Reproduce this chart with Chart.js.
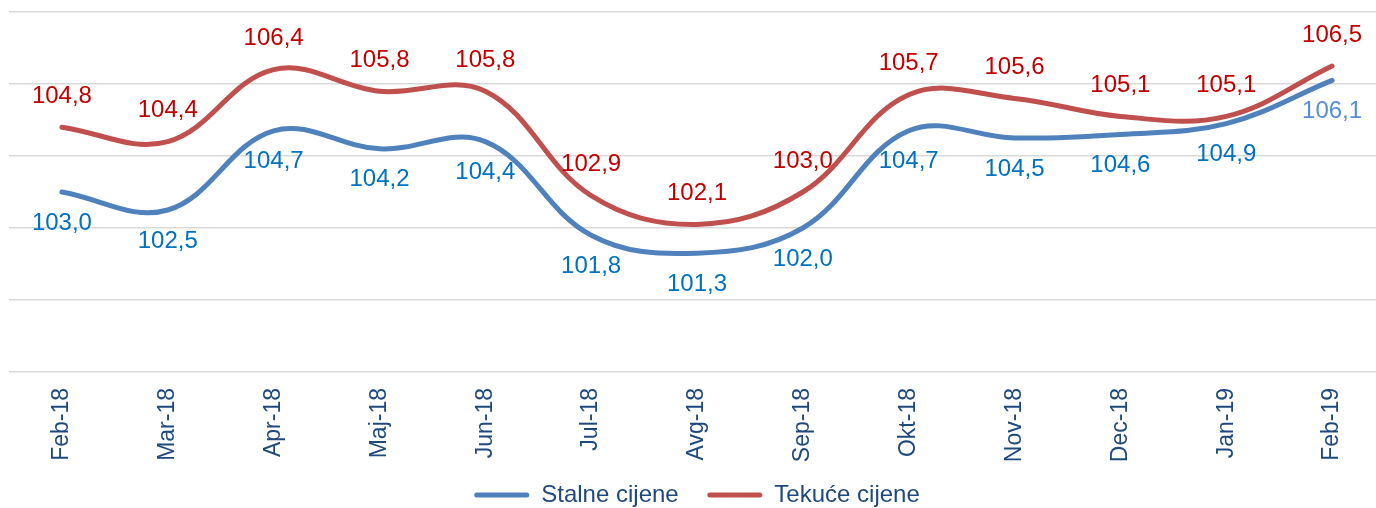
<!DOCTYPE html>
<html>
<head>
<meta charset="utf-8">
<script src="https://cdn.jsdelivr.net/npm/chart.js@4"></script>
<style>
  html, body { margin: 0; padding: 0; background: #fff; overflow: hidden; }
  #wrap { width: 1385px; height: 508px; position: relative; }
</style>
</head>
<body>
<div id="wrap"><canvas id="chartC"></canvas></div>
<script>
var months = ["Feb-18", "Mar-18", "Apr-18", "Maj-18", "Jun-18", "Jul-18", "Avg-18",
              "Sep-18", "Okt-18", "Nov-18", "Dec-18", "Jan-19", "Feb-19"];
var stalne = [103.0, 102.5, 104.7, 104.2, 104.4, 101.8, 101.3, 102.0, 104.7, 104.5, 104.6, 104.9, 106.1];
var tekuce = [104.8, 104.4, 106.4, 105.8, 105.8, 102.9, 102.1, 103.0, 105.7, 105.6, 105.1, 105.1, 106.5];
var yTicks = [98, 100, 102, 104, 106, 108];

var FONT = 'Arial, "Liberation Sans", sans-serif';
var TXT = '#1f497d';

// value labels above / below every point
var valueLabels = {
    id: 'valueLabels',
    afterDatasetsDraw: function(chart) {
        var ctx = chart.ctx;
        ctx.save();
        ctx.font = '24px ' + FONT;
        ctx.textAlign = 'center';
        ctx.textBaseline = 'middle';
        chart.data.datasets.forEach(function(ds, di) {
            var meta = chart.getDatasetMeta(di);
            meta.data.forEach(function(pt, i) {
                var v = ds.data[i];
                var col = ds.labelColor;
                if (di == 0 && i == ds.data.length - 1) col = '#558ed5';
                ctx.fillStyle = col;
                ctx.fillText(v.toFixed(1).replace('.', ','), pt.x, pt.y + ds.labelOffset);
            });
        });
        ctx.restore();
    }
};

var ctx = document.getElementById("chartC");
var chartC = new Chart(ctx, {
    type: "line",
    data: {
        labels: months,
        datasets: [{
            label: "Stalne cijene",
            data: stalne,
            borderColor: '#4f81bd',
            backgroundColor: '#4f81bd',
            borderWidth: 5,
            pointRadius: 0,
            tension: 0.38,
            borderCapStyle: 'round',
            labelColor: '#0070c0',
            labelOffset: 31
        }, {
            label: "Tekuće cijene",
            data: tekuce,
            borderColor: '#c0504d',
            backgroundColor: '#c0504d',
            borderWidth: 5,
            pointRadius: 0,
            tension: 0.38,
            borderCapStyle: 'round',
            labelColor: '#c00000',
            labelOffset: -31
        }]
    },
    options: {
        responsive: true,
        maintainAspectRatio: false,
        animation: false,
        layout: { padding: { left: 9, right: 0, top: 12, bottom: -9 } },
        plugins: {
            tooltip: { enabled: false },
            legend: {
                position: 'bottom',
                labels: {
                    font: { size: 24, family: FONT },
                    color: TXT,
                    boxWidth: 55,
                    boxHeight: 5,
                    padding: 2,
                    useBorderRadius: true,
                    borderRadius: 2.5,
                    generateLabels: function(chart) {
                        return chart.data.datasets.map(function(ds, i) {
                            return {
                                text: i == 0 ? ds.label + '    ' : ds.label,
                                fillStyle: ds.borderColor,
                                strokeStyle: ds.borderColor,
                                lineWidth: 0,
                                fontColor: TXT,
                                borderRadius: 2.5,
                                datasetIndex: i
                            };
                        });
                    }
                }
            }
        },
        scales: {
            x: {
                offset: true,
                grid: { display: false, drawTicks: false },
                border: { display: false },
                ticks: {
                    minRotation: 90,
                    maxRotation: 90,
                    padding: 16,
                    color: TXT,
                    font: { size: 23, family: FONT },
                    autoSkip: false
                },
                afterFit: function(scale) { scale.height = 109; }
            },
            y: {
                min: 98,
                max: 108,
                afterBuildTicks: function(scale) {
                    scale.ticks = yTicks.map(function(v) { return { value: v }; });
                },
                grid: { color: '#d9d9d9', lineWidth: 1.5, drawTicks: false },
                border: { display: false },
                ticks: { display: false },
                afterFit: function(scale) { scale.width = 0; }
            }
        }
    },
    plugins: [valueLabels]
});
</script>
</body>
</html>
